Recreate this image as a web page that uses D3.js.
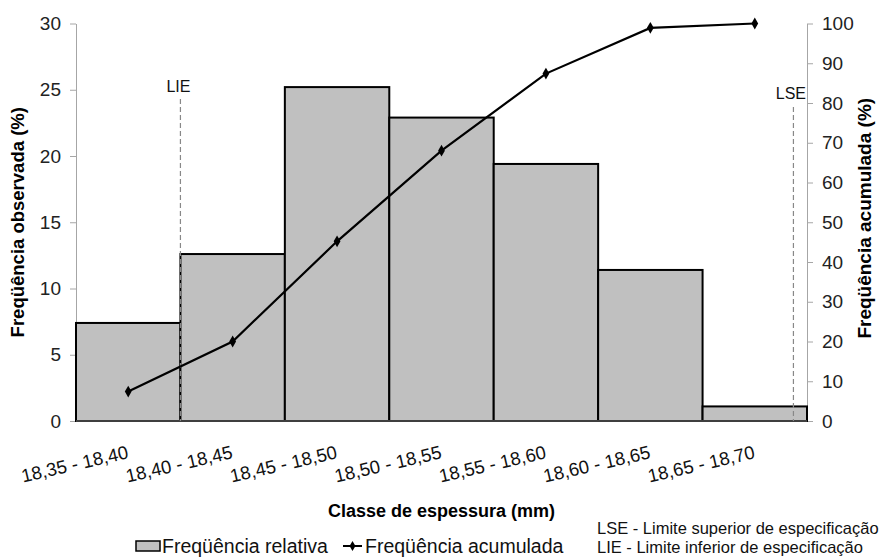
<!DOCTYPE html>
<html>
<head>
<meta charset="utf-8">
<script src="https://cdn.jsdelivr.net/npm/d3@7"></script>
<style>
  body { margin: 0; background: #fff; }
  svg { display: block; font-family: Arial, "Liberation Sans", sans-serif; }
</style>
</head>
<body>
<div id="chart"></div>
<script>
const classes = ["18,35 - 18,40", "18,40 - 18,45", "18,45 - 18,50", "18,50 - 18,55",
                 "18,55 - 18,60", "18,60 - 18,65", "18,65 - 18,70"];
const relFreq = [7.4, 12.6, 25.2, 22.9, 19.4, 11.4, 1.1];
const cumFreq = [7.4, 20.0, 45.2, 68.0, 87.4, 98.9, 100.0];
const leftTicks = [0, 5, 10, 15, 20, 25, 30];
const rightTicks = [0, 10, 20, 30, 40, 50, 60, 70, 80, 90, 100];
// spec limits, position in class index units (0 = left edge of first class)
const specLimits = [
  { name: "LIE", pos: 1.0, top: 24.3 },
  { name: "LSE", pos: 6.87, top: 23.7 }
];
const notes = ["LSE - Limite superior de especificação", "LIE - Limite inferior de especificação"];

const width = 883, height = 558;
const margin = { top: 23.5, right: 76, bottom: 137, left: 76 };

const svg = d3.select("#chart").append("svg")
  .attr("width", width).attr("height", height);

var x = d3.scaleLinear().domain([0, classes.length]).range([margin.left, width - margin.right]);
var y = d3.scaleLinear().domain([0, 30]).range([height - margin.bottom, margin.top]);
var y2 = d3.scaleLinear().domain([0, 100]).range([height - margin.bottom, margin.top]);

// axes
var leftAxis = svg.append("g")
  .attr("transform", `translate(${margin.left},0)`)
  .call(d3.axisLeft(y).tickValues(leftTicks).tickSize(6).tickSizeOuter(0).tickPadding(9));
var rightAxis = svg.append("g")
  .attr("transform", `translate(${width - margin.right},0)`)
  .call(d3.axisRight(y2).tickValues(rightTicks).tickSize(6).tickSizeOuter(0).tickPadding(9));

[leftAxis, rightAxis].forEach(function (a) {
  a.select(".domain").attr("stroke", "#a6a6a6");
  a.selectAll(".tick line").attr("stroke", "#a6a6a6");
  a.selectAll(".tick text").attr("font-size", 19).attr("fill", "#222")
    .attr("font-family", "Arial, 'Liberation Sans', sans-serif");
});

// bars
svg.append("g")
  .selectAll("rect")
  .data(relFreq)
  .enter()
  .append("rect")
  .attr("x", (d, i) => x(i))
  .attr("y", d => y(d))
  .attr("width", (d, i) => x(i + 1) - x(i))
  .attr("height", d => y(0) - y(d))
  .attr("fill", "#c0c0c0")
  .attr("stroke", "#000")
  .attr("stroke-width", 2);

// baseline
svg.append("line")
  .attr("x1", x(0)).attr("x2", x(classes.length))
  .attr("y1", y(0)).attr("y2", y(0))
  .attr("stroke", "#555").attr("stroke-width", 1.5);

// spec limit lines
specLimits.forEach(function (s) {
  svg.append("line")
    .attr("x1", x(s.pos)).attr("x2", x(s.pos))
    .attr("y1", y(s.top)).attr("y2", y(0))
    .attr("stroke", "#888").attr("stroke-width", 1.2)
    .attr("stroke-dasharray", "5,3");
});
svg.append("text")
  .attr("x", x(1) - 2).attr("y", y(24.3) - 7)
  .attr("text-anchor", "middle").attr("font-size", 16).attr("fill", "#111")
  .text("LIE");
svg.append("text")
  .attr("x", width - margin.right - 1).attr("y", y(23.7) - 8)
  .attr("text-anchor", "end").attr("font-size", 16).attr("fill", "#111")
  .text("LSE");

// cumulative line
var line = d3.line()
  .x((d, i) => x(i + 0.5))
  .y(d => y2(d));

svg.append("path")
  .datum(cumFreq)
  .attr("d", line)
  .attr("fill", "none")
  .attr("stroke", "#000")
  .attr("stroke-width", 2.2);

svg.append("g")
  .selectAll("path")
  .data(cumFreq)
  .enter()
  .append("path")
  .attr("d", d3.symbol().type(d3.symbolDiamond).size(40))
  .attr("transform", (d, i) => `translate(${x(i + 0.5)},${y2(d)})`)
  .attr("fill", "#000");

// x category labels (rotated)
svg.append("g")
  .selectAll("text")
  .data(classes)
  .enter()
  .append("text")
  .attr("transform", (d, i) => `translate(${x(i + 0.5) + 1},${y(0) + 37}) rotate(-13)`)
  .attr("text-anchor", "end")
  .attr("font-size", 18.5)
  .attr("fill", "#111")
  .text(d => d);

// axis titles
svg.append("text")
  .attr("x", (x(0) + x(classes.length)) / 2).attr("y", 517)
  .attr("text-anchor", "middle").attr("font-size", 18).attr("font-weight", "bold")
  .text("Classe de espessura (mm)");

svg.append("text")
  .attr("transform", `translate(24,${(y(0) + y(30)) / 2}) rotate(-90)`)
  .attr("text-anchor", "middle").attr("font-size", 18.5).attr("font-weight", "bold")
  .text("Freqüência observada (%)");

svg.append("text")
  .attr("transform", `translate(871,${(y(0) + y(30)) / 2 - 4}) rotate(-90)`)
  .attr("text-anchor", "middle").attr("font-size", 19).attr("font-weight", "bold")
  .text("Freqüência acumulada (%)");

// legend
var legend = svg.append("g");
legend.append("rect")
  .attr("x", 136).attr("y", 541).attr("width", 24).attr("height", 10)
  .attr("fill", "#c0c0c0").attr("stroke", "#000").attr("stroke-width", 1.5);
legend.append("text")
  .attr("x", 162).attr("y", 553).attr("font-size", 19.5).attr("fill", "#111")
  .text("Freqüência relativa");
legend.append("line")
  .attr("x1", 343).attr("x2", 362).attr("y1", 546).attr("y2", 546)
  .attr("stroke", "#000").attr("stroke-width", 2);
legend.append("path")
  .attr("d", d3.symbol().type(d3.symbolDiamond).size(30))
  .attr("transform", "translate(352.5,546)");
legend.append("text")
  .attr("x", 365).attr("y", 553).attr("font-size", 19.5).attr("fill", "#111")
  .text("Freqüência acumulada");

svg.append("g")
  .selectAll("text")
  .data(notes)
  .enter()
  .append("text")
  .attr("x", 597).attr("y", (d, i) => 534 + i * 19)
  .attr("font-size", 16.5).attr("fill", "#111")
  .text(d => d);
</script>
</body>
</html>
